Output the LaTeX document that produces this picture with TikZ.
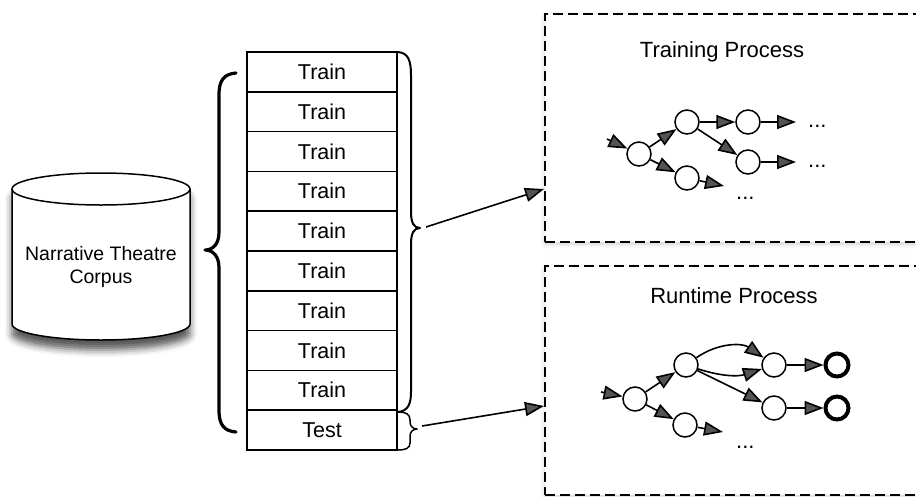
\documentclass[tikz,border=0pt]{standalone}
\usepackage{fontspec}
\setmainfont{Liberation Sans}
\usetikzlibrary{arrows.meta,shadows.blur,calc}
\begin{document}
\begin{tikzpicture}[x=1pt,y=-1pt,
  row/.style={draw,line width=1.5pt,minimum width=150pt,minimum height=39.8pt,inner sep=0pt,font=\fontsize{21.5}{25}\selectfont},
  st/.style={circle,draw,line width=1.5pt,minimum size=24pt,inner sep=0pt,fill=white},
  endst/.style={circle,draw,line width=4pt,minimum size=23pt,inner sep=0pt,fill=white},
  arr/.style={line width=1.6pt,-{Triangle[length=19pt,width=14pt]}},
  dotstxt/.style={inner sep=0pt,anchor=base west,font=\fontsize{22}{26}\selectfont},
  procbox/.style={draw,dash pattern=on 10pt off 5pt,line width=2pt,anchor=north west,minimum width=420pt,inner sep=0pt,fill=white,blur shadow={shadow xshift=0pt,shadow yshift=-2pt,shadow opacity=18,shadow blur radius=5pt}},
  ptitle/.style={font=\fontsize{22}{26}\selectfont},
  bracepath/.style={line cap=round,line join=round}
]
\useasboundingbox (0,0) rectangle (916,496);
\clip (0,0) rectangle (916,496);

% corpus cylinder
\path[draw,fill=white,line width=1.5pt,blur shadow={shadow xshift=0pt,shadow yshift=-10pt,shadow opacity=65,shadow blur radius=7pt}]
 (12,189) -- (12,324) .. controls (12,332.8) and (51.8,340) .. (101,340) .. controls (150.2,340) and (190,332.8) .. (190,324) -- (190,189) .. controls (190,180.2) and (150.2,173) .. (101,173) .. controls (51.8,173) and (12,180.2) .. (12,189) -- cycle;
\draw[line width=1.5pt] (12,189) .. controls (12,197.8) and (51.8,205) .. (101,205) .. controls (150.2,205) and (190,197.8) .. (190,189);
\node[align=center,font=\fontsize{19.5}{23}\selectfont] (corpus) at (101,267) {Narrative Theatre\\Corpus};

% data split rows
\foreach \i in {1,...,9} { \node[row] (r\i) at (322,{52+19.9+(\i-1)*39.8}) {Train}; }
\node[row] (test) at (322,{52+19.9+9*39.8}) {Test};

% braces
\draw[bracepath,line width=3.2pt] (236,73) .. controls (224,74) and (219,80) .. (219,95) -- (219,232) .. controls (219,244) and (213,250) .. (205,250) .. controls (213,250) and (219,256) .. (219,268) -- (219,410) .. controls (219,425) and (224,431) .. (236,432);
\draw[bracepath,line width=2pt] (398,52) .. controls (408,53) and (411,60) .. (411,75) -- (411,212) .. controls (411,223) and (414,228) .. (420,228) .. controls (414,228) and (411,233) .. (411,244) -- (411,392) .. controls (411,404) and (408,411) .. (398,412);
\draw[bracepath,line width=1.5pt] (398,412) .. controls (406,412) and (410,414) .. (410,420) -- (410,422) .. controls (410,426) and (413,429) .. (417,429) .. controls (413,429) and (410,432) .. (410,436) -- (410,443) .. controls (410,448) and (406,450) .. (398,450);

% process boxes
\node[procbox,minimum height=228pt] (train) at (544,13) {};
\node[procbox,minimum height=229pt] (run) at (544,265) {};
\node[ptitle] (ttl1) at (722,52) {Training Process};
\node[ptitle] (ttl2) at (734,296) {Runtime Process};

% arrows from split to processes
\coordinate (tipA) at (426,227);
\coordinate (tipB) at (422,426);
\coordinate (inA) at ($(train.north west)+(0,176)$);
\coordinate (inB) at ($(run.north west)+(0,141)$);
\draw[arr] (tipA) -- (inA);
\draw[arr] (tipB) -- (inB);

% training graph
\node[st] (a1) at (639,154) {};
\node[st] (b1) at (687,122) {};
\node[st] (c1) at (748,122) {};
\node[st] (d1) at (748,162) {};
\node[st] (e1) at (687,178) {};
\node[dotstxt] (m1) at (808,127) {...};
\node[dotstxt] (m2) at (808,167) {...};
\node[dotstxt] (m3) at (736,199) {...};
\coordinate (s1) at (607,139);
\coordinate (x1) at (724,186);
\draw[arr] (s1) -- (a1);
\draw[arr] (a1) -- (b1);
\draw[arr] (a1) -- (e1);
\draw[arr] (b1) -- (c1);
\draw[arr] (b1) -- (d1);
\draw[arr] (c1) -- ($(m1.west |- c1)+(-12,0)$);
\draw[arr] (d1) -- ($(m2.west |- d1)+(-12,0)$);
\draw[arr] (e1) -- (x1);

% runtime graph
\node[st] (a2) at (635,399) {};
\node[st] (b2) at (686,365) {};
\node[st] (c2) at (774,365) {};
\node[st] (d2) at (774,408) {};
\node[st] (e2) at (685,425) {};
\node[endst] (f2) at (837,365) {};
\node[endst] (g2) at (837,408) {};
\node[dotstxt] (m4) at (736,448) {...};
\coordinate (s2) at (601,392);
\coordinate (x2) at (723,432);
\draw[arr] (s2) -- (a2);
\draw[arr] (a2) -- (b2);
\draw[arr] (a2) -- (e2);
\draw[arr] (b2) to[bend left=35] (c2);
\draw[arr] (b2) to[bend right=18] (c2);
\draw[arr] (b2) -- (d2);
\draw[arr] (c2) -- (f2);
\draw[arr] (d2) -- (g2);
\draw[arr] (e2) -- (x2);
\end{tikzpicture}
\end{document}
